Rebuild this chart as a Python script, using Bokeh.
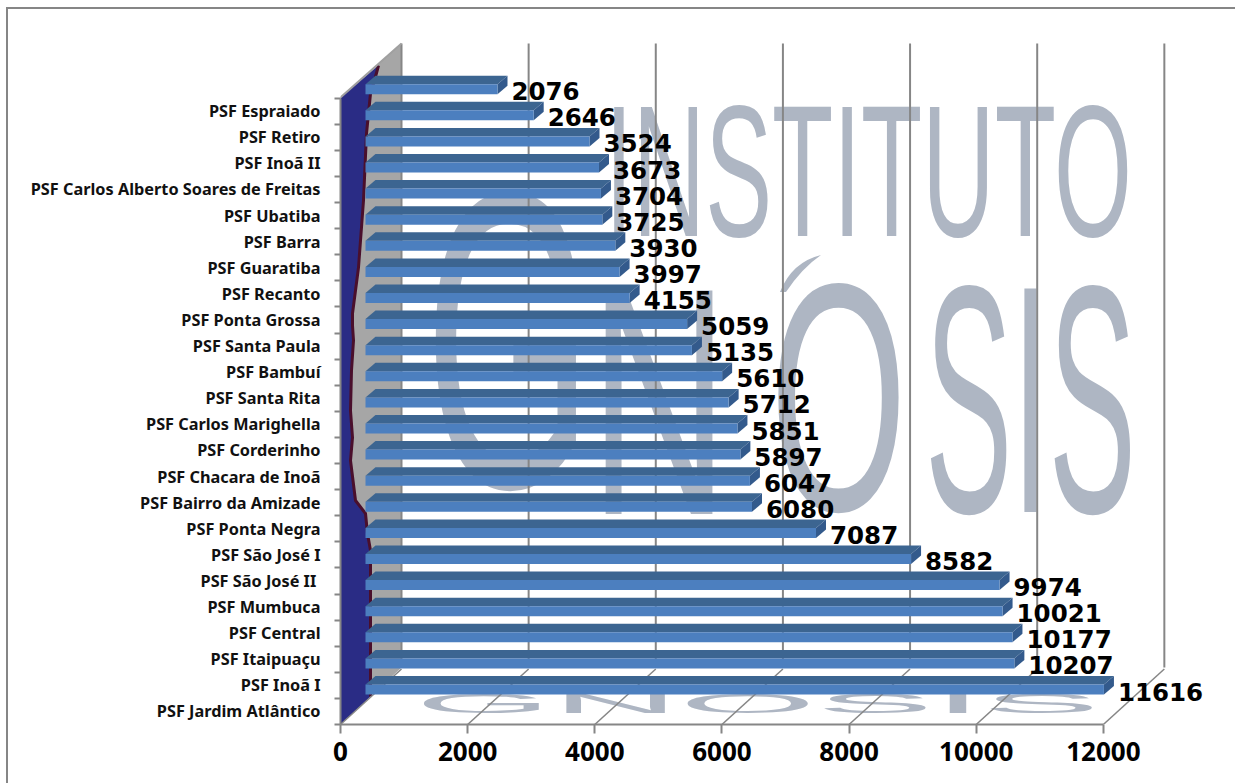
from bokeh.plotting import figure
from bokeh.models import Range1d, FixedTicker, ColumnDataSource, Div
from bokeh.layouts import column
from bokeh.core.properties import value
from bokeh.embed import file_html
from bokeh.resources import INLINE

categories = ["PSF Jardim Atlântico", "PSF Inoã I", "PSF Itaipuaçu", "PSF Central", "PSF Mumbuca",
              "PSF São José II ", "PSF São José I", "PSF Ponta Negra", "PSF Bairro da Amizade",
              "PSF Chacara de Inoã", "PSF Corderinho", "PSF Carlos Marighella", "PSF Santa Rita",
              "PSF Bambuí", "PSF Santa Paula", "PSF Ponta Grossa", "PSF Recanto", "PSF Guaratiba",
              "PSF Barra", "PSF Ubatiba", "PSF Carlos Alberto Soares de Freitas", "PSF Inoã II",
              "PSF Retiro", "PSF Espraiado"]
values = [11616, 10207, 10177, 10021, 9974, 8582, 7087, 6080, 6047, 5897, 5851, 5712, 5610,
          5135, 5059, 4155, 3997, 3930, 3725, 3704, 3673, 3524, 2646, 2076]
x_ticks = [0, 2000, 4000, 6000, 8000, 10000, 12000]

GRAY = "#868686"
WM = "#AEB6C3"
SX, SY = 0.06357, 26.1            # px per value, px per category
ORIGIN_X, ORIGIN_Y = 340, 724     # page px of the axes' origin
W, H = 1235, 783

def X(px):
    return (px - ORIGIN_X) / SX

def Y(py):
    return (ORIGIN_Y - py) / SY

# 3D offsets in data units
WALL_DX, WALL_DY = 61 / SX, 56 / SY
BAR_START = 25 / SX
BAR_BASE = 30 / SY
BAR_H = 10 / SY
BAR_DX, BAR_DY = 10 / SX, 8.5 / SY

p = figure(width=W, height=H, output_backend="svg", toolbar_location=None,
           x_range=Range1d(0, (W - ORIGIN_X) / SX), y_range=Range1d(0, ORIGIN_Y / SY),
           min_border_left=ORIGIN_X, min_border_top=0, min_border_right=0,
           min_border_bottom=H - ORIGIN_Y,
           background_fill_color=None, border_fill_color=None, outline_line_color=None)
p.grid.visible = False

# left wall, gray, with the blue part in front of it
p.patch([X(340), X(401), X(401), X(370), X(340)], [Y(97), Y(43), Y(667), Y(696), Y(724)],
        fill_color="#A6A6A6", line_color=None)
edge_x = [378, 374, 370, 366, 363, 358, 352, 352, 353, 351, 350, 352, 350, 355, 365, 367, 370, 370]
edge_y = [65, 80, 93, 133, 200, 267, 313, 325, 340, 370, 410, 437, 460, 500, 513, 533, 550, 696]
p.patch([X(340)] + [X(v) for v in edge_x] + [X(340)], [Y(97)] + [Y(v) for v in edge_y] + [Y(724)],
        fill_color="#2A2C85", line_color=None)
p.line([X(v) for v in edge_x], [Y(v) for v in edge_y], line_color="#4A0F2C", line_width=3)

# back-wall verticals and floor diagonals
p.segment(x0=[t + WALL_DX for t in x_ticks], x1=[t + WALL_DX for t in x_ticks],
          y0=[Y(667)] * 7, y1=[Y(43)] * 7, line_color=GRAY, line_width=2)
p.segment(x0=x_ticks, x1=[t + WALL_DX for t in x_ticks], y0=[0] * 7, y1=[WALL_DY - 0.02] * 7,
          line_color=GRAY, line_width=1.5)
p.line([0, WALL_DX], [Y(97) - 0.0, Y(43)], line_color="#A0A0A0", line_width=2)

# bars
base = [i + BAR_BASE for i in range(len(values))]
ends = [BAR_START + v for v in values]
top_xs = [[BAR_START, e, e + BAR_DX, BAR_START + BAR_DX] for e in ends]
top_ys = [[b + BAR_H, b + BAR_H, b + BAR_H + BAR_DY, b + BAR_H + BAR_DY] for b in base]
side_xs = [[e, e + BAR_DX, e + BAR_DX, e] for e in ends]
side_ys = [[b, b + BAR_DY, b + BAR_H + BAR_DY, b + BAR_H] for b in base]
p.patches(top_xs, top_ys, fill_color="#3C6591", line_color=None)
p.patches(side_xs, side_ys, fill_color="#335A8C", line_color=None)
p.quad(left=[BAR_START] * len(ends), right=ends, bottom=base, top=[b + BAR_H for b in base],
       fill_color="#4C7FBF", line_color=None)

# value labels
src = ColumnDataSource(dict(x=ends, y=base, t=[str(v) for v in values]))
p.text("x", "y", text="t", source=src, x_offset=14, y_offset=-3, text_baseline="middle",
       text_font=value("DejaVu Sans"), text_font_style="bold", text_font_size="24.5px", text_color="#000000")

# axes
ax = p.xaxis[0]
ax.ticker = FixedTicker(ticks=x_ticks)
ax.bounds = (0, 12000)
ax.axis_line_color = GRAY
ax.axis_line_width = 2
ax.major_tick_line_color = GRAY
ax.major_tick_line_width = 2
ax.major_tick_out = 9
ax.major_tick_in = 0
ax.minor_tick_line_color = None
ax.major_label_standoff = 8
ax.major_label_text_font = "Open Sans"
ax.major_label_text_font_style = "bold"
ax.major_label_text_font_size = "26px"
ax.major_label_text_color = "#000000"

ay = p.yaxis[0]
n = len(categories)
ay.ticker = FixedTicker(ticks=[i + 0.5 for i in range(n)], minor_ticks=list(range(n + 1)))
ay.major_label_overrides = {i + 0.5: c for i, c in enumerate(categories)}
ay.bounds = (0, n)
ay.axis_line_color = GRAY
ay.axis_line_width = 2
ay.major_tick_line_color = None
ay.major_tick_out = 0
ay.major_tick_in = 0
ay.minor_tick_line_color = GRAY
ay.minor_tick_line_width = 2
ay.minor_tick_out = 6
ay.minor_tick_in = 0
ay.major_label_standoff = 14
ay.major_label_text_font = "Noto Sans"
ay.major_label_text_font_style = "bold"
ay.major_label_text_font_size = "16.3px"
ay.major_label_text_color = "#111111"

# watermark behind the transparent plot: (text, left px, right px, baseline px, font px, scale y)
marks = [("INSTITUTO", 605, 1132, 236, 187, 1), ("G", 425, 592, 487, 423, 1),
         ("N", 590, 728, 514, 325, 1), ("O", 770, 907, 510, 325, 1),
         ("SIS", 925, 1136, 512, 325, 1), ("GNOSIS", 415, 1100, 713, 338, 0.08)]
svg = "".join(
    f'<text transform="translate({x0},{y}) scale(1,{sy})" textLength="{x1 - x0}" '
    f'lengthAdjust="spacingAndGlyphs" font-family="Liberation Serif, serif" '
    f'font-size="{fs}" fill="{WM}">{t}</text>' for t, x0, x1, y, fs, sy in marks)
accent = f'<path d="M780 292 Q792 262 821 255 Q802 268 786 292 Z" fill="{WM}"/>'
frame = (f'<line x1="6" y1="8" x2="{W}" y2="8" stroke="{GRAY}" stroke-width="2"/>'
         f'<line x1="7" y1="8" x2="7" y2="{H}" stroke="{GRAY}" stroke-width="2"/>')
div = Div(text=f'<svg width="{W}" height="{H}" style="position:absolute;left:0;top:0;overflow:visible">'
               f'{frame}{svg}{accent}</svg>', width=W, height=0, margin=0, render_as_text=False)
p.margin = 0
page = column(div, p, spacing=0)
open("out.html", "w").write(file_html(page, INLINE))
